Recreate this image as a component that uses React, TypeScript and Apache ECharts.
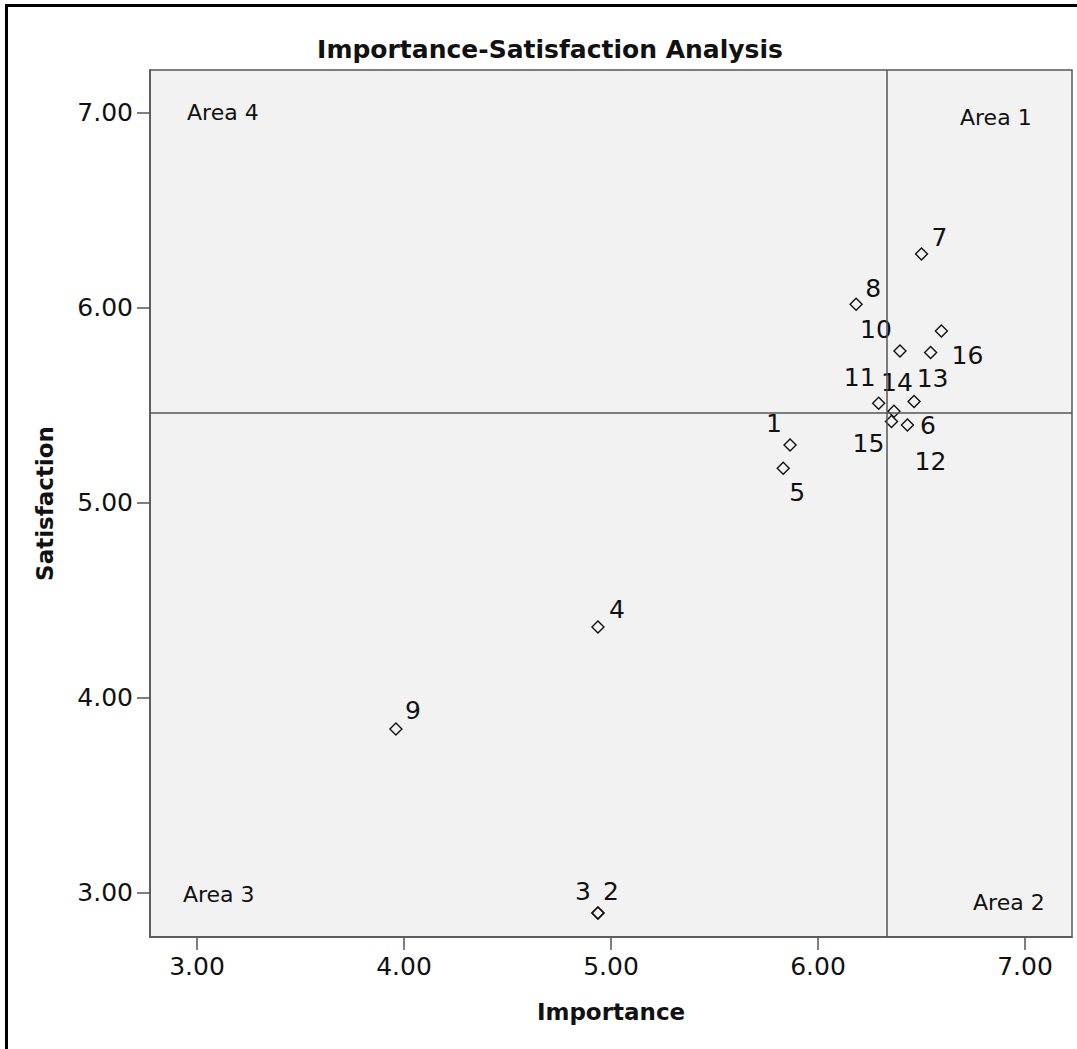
import React, { useEffect, useRef } from "react";
import * as echarts from "echarts";

// ---- data ----
const pointLabels = ["1", "2", "3", "4", "5", "6", "7", "8", "9", "10", "11", "12", "13", "14", "15", "16"];
const importance = [5.865, 4.937, 4.937, 4.937, 5.832, 6.464, 6.5, 6.184, 3.961, 6.396, 6.293, 6.432, 6.544, 6.367, 6.355, 6.596];
const satisfaction = [5.297, 2.897, 2.897, 4.364, 5.178, 5.52, 6.277, 6.019, 3.841, 5.779, 5.511, 5.4, 5.771, 5.47, 5.417, 5.881];
const meanImportance = 6.328;
const meanSatisfaction = 5.456;
const xTicks = [3, 4, 5, 6, 7];
const yTicks = [3, 4, 5, 6, 7];
const areaNames = ["Area 4", "Area 1", "Area 3", "Area 2"];
const areaX = [2.952, 6.686, 2.932, 6.749];
const areaY = [7.0, 6.974, 2.99, 2.95];

// ---- styling (label offsets in px) ----
const labelOffsets: [number, number][] = [
  [-16, -21], [13, -22], [-15, -22], [19, -17], [14, 24], [14, 24], [18, -16], [17, -16],
  [17, -18], [-24, -22], [-19, -26], [23, 37], [2, 26], [3, -29], [-23, 22], [26, 24],
];

const FONT = "'DejaVu Sans', sans-serif";

export default function App() {
  const ref = useRef<HTMLDivElement>(null);
  useEffect(() => {
    if (!ref.current) return;
    const chart = echarts.init(ref.current, undefined, { renderer: "svg" });
    const pts = importance.map((x, i) => ({
      value: [x, satisfaction[i]],
      name: pointLabels[i],
      label: { offset: labelOffsets[i] },
    }));
    const areas = areaNames.map((n, i) => ({ value: [areaX[i], areaY[i]], name: n }));
    chart.setOption({
      animation: false,
      backgroundColor: "#ffffff",
      title: {
        text: "Importance-Satisfaction Analysis",
        left: 545,
        top: 32,
        textAlign: "center",
        textStyle: { fontFamily: FONT, fontSize: 25, fontWeight: "bold", color: "#111" },
      },
      grid: {
        left: 150,
        top: 70,
        right: 5,
        bottom: 112,
        show: true,
        backgroundColor: "#f2f2f2",
        borderColor: "#555",
        borderWidth: 1.5,
      },
      xAxis: {
        type: "value",
        min: 2.773,
        max: 7.227,
        name: "Importance",
        nameLocation: "middle",
        nameGap: 63,
        nameTextStyle: { fontFamily: FONT, fontSize: 23, fontWeight: "bold", color: "#111" },
        axisLine: { show: true, lineStyle: { color: "#555", width: 1.5 } },
        axisTick: { show: true, customValues: xTicks, length: 13, lineStyle: { color: "#555", width: 1.5 } },
        axisLabel: {
          customValues: xTicks,
          formatter: (v: number) => v.toFixed(2),
          fontFamily: FONT,
          fontSize: 25,
          color: "#111",
          margin: 17,
        },
        splitLine: { show: false },
      },
      yAxis: {
        type: "value",
        min: 2.774,
        max: 7.22,
        name: "Satisfaction",
        nameLocation: "middle",
        nameGap: 94,
        nameTextStyle: { fontFamily: FONT, fontSize: 23, fontWeight: "bold", color: "#111" },
        axisLine: { show: true, lineStyle: { color: "#555", width: 1.5 } },
        axisTick: { show: true, customValues: yTicks, length: 13, lineStyle: { color: "#555", width: 1.5 } },
        axisLabel: {
          customValues: yTicks,
          formatter: (v: number) => v.toFixed(2),
          fontFamily: FONT,
          fontSize: 25,
          color: "#111",
          margin: 17,
        },
        splitLine: { show: false },
      },
      series: [
        {
          type: "scatter",
          symbol: "diamond",
          symbolSize: 12,
          data: pts,
          itemStyle: { color: "rgba(0,0,0,0)", borderColor: "#111", borderWidth: 1.4, opacity: 1 },
          label: {
            show: true,
            position: "inside",
            formatter: (p: any) => p.name,
            fontFamily: FONT,
            fontSize: 25,
            color: "#111",
          },
          markLine: {
            silent: true,
            symbol: ["none", "none"],
            label: { show: false },
            lineStyle: { type: "solid", color: "#555", width: 1.5, opacity: 1 },
            data: [{ xAxis: meanImportance }, { yAxis: meanSatisfaction }],
          },
          z: 3,
        },
        {
          type: "scatter",
          symbolSize: 0,
          data: areas,
          silent: true,
          itemStyle: { opacity: 1 },
          label: {
            show: true,
            position: "right",
            distance: 0,
            formatter: (p: any) => p.name,
            fontFamily: FONT,
            fontSize: 22,
            color: "#111",
          },
        },
      ],
      graphic: [
        {
          type: "rect",
          shape: { x: 6.5, y: 5.5, width: 1200, height: 1200 },
          style: { fill: "none", stroke: "#000", lineWidth: 3 },
          silent: true,
        },
      ],
    });
    return () => chart.dispose();
  }, []);
  return (
    <div
      ref={ref}
      style={{ position: "absolute", left: 0, top: 0, width: 1077, height: 1049 }}
    />
  );
}
